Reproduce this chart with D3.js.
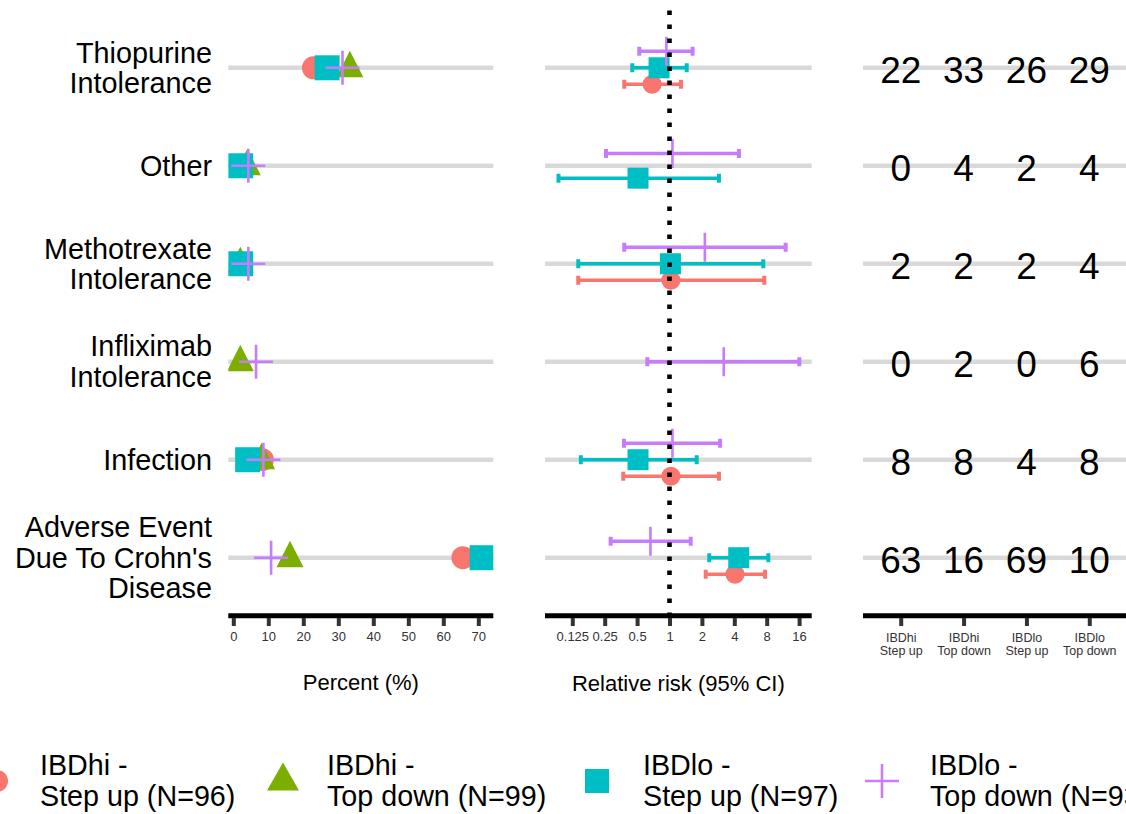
<!DOCTYPE html>
<html>
<head>
<meta charset="utf-8">
<script src="https://cdn.jsdelivr.net/npm/d3@7"></script>
<style>
  html, body { margin: 0; padding: 0; background: #fff; }
  svg { display: block; font-family: "Liberation Sans", Arial, Helvetica, sans-serif; }
</style>
</head>
<body>
<svg id="chart" width="1126" height="814"></svg>
<script>
// ---- data ----
const categories = [
  "Thiopurine Intolerance",
  "Other",
  "Methotrexate Intolerance",
  "Infliximab Intolerance",
  "Infection",
  "Adverse Event Due To Crohn's Disease"
];
const categoryLines = [
  ["Thiopurine", "Intolerance"],
  ["Other"],
  ["Methotrexate", "Intolerance"],
  ["Infliximab", "Intolerance"],
  ["Infection"],
  ["Adverse Event", "Due To Crohn's", "Disease"]
];

const groups = ["IBDhi - Step up", "IBDhi - Top down", "IBDlo - Step up", "IBDlo - Top down"];
const groupLegendLine1 = ["IBDhi -", "IBDhi -", "IBDlo -", "IBDlo -"];
const groupLegendLine2 = ["Step up (N=96)", "Top down (N=99)", "Step up (N=97)", "Top down (N=93)"];
const groupTickLine1 = ["IBDhi", "IBDhi", "IBDlo", "IBDlo"];
const groupTickLine2 = ["Step up", "Top down", "Step up", "Top down"];
const groupColors = ["#F8766D", "#7CAE00", "#00BFC4", "#C77CFF"];
const groupShapes = ["circle", "triangle", "square", "cross"];

// number of patients with each event, per group
const countHiStepUp  = [22, 0, 2, 0, 8, 63];
const countHiTopDown = [33, 4, 2, 2, 8, 16];
const countLoStepUp  = [26, 2, 2, 0, 4, 69];
const countLoTopDown = [29, 4, 4, 6, 8, 10];

// percent of patients with each event (null where there were no events)
const pctHiStepUp  = [22.9, null, 2.1, null, 8.3, 65.6];
const pctHiTopDown = [33.3, 4.0, 2.0, 2.0, 8.1, 16.2];
const pctLoStepUp  = [26.8, 2.1, 2.1, null, 4.1, 71.1];
const pctLoTopDown = [31.2, 4.3, 4.3, 6.5, 8.6, 10.8];

// relative risk against IBDhi - Top down, with 95% confidence limits
const rrHiStepUp     = [0.69, null, 1.03, null, 1.03, 4.06];
const rrHiStepUpLow  = [0.38, null, 0.142, null, 0.372, 2.17];
const rrHiStepUpHigh = [1.28, null, 7.6, null, 2.88, 7.72];
const rrLoStepUp     = [0.80, 0.51, 1.02, null, 0.51, 4.40];
const rrLoStepUpLow  = [0.451, 0.093, 0.142, null, 0.150, 2.34];
const rrLoStepUpHigh = [1.445, 2.88, 7.44, null, 1.79, 8.28];
const rrLoTopDown     = [0.935, 1.065, 2.13, 3.19, 1.065, 0.665];
const rrLoTopDownLow  = [0.524, 0.257, 0.380, 0.622, 0.378, 0.284];
const rrLoTopDownHigh = [1.64, 4.42, 12.0, 16.07, 2.95, 1.574];

const pctTicks = [0, 10, 20, 30, 40, 50, 60, 70];
const rrTicks = [0.125, 0.25, 0.5, 1, 2, 4, 8, 16];
const rrTickLabels = ["0.125", "0.25", "0.5", "1", "2", "4", "8", "16"];

// ---- series tables built from the arrays ----
const counts = [countHiStepUp, countHiTopDown, countLoStepUp, countLoTopDown];
const pcts = [pctHiStepUp, pctHiTopDown, pctLoStepUp, pctLoTopDown];
const rrSeries = [
  { g: 0, est: rrHiStepUp, lo: rrHiStepUpLow, hi: rrHiStepUpHigh },
  { g: 2, est: rrLoStepUp, lo: rrLoStepUpLow, hi: rrLoStepUpHigh },
  { g: 3, est: rrLoTopDown, lo: rrLoTopDownLow, hi: rrLoTopDownHigh }
];

// ---- layout ----
const svg = d3.select("#chart");
const FONT = '"Liberation Sans", Arial, Helvetica, sans-serif';
const panelTop = 9, panelBottom = 616.5;
const axisLineY = 615.8, tickTop = 618;

const y = d3.scalePoint().domain(categories).range([panelTop, panelBottom]).padding(0.6);
const rowStep = y.step();

const pctPanel = { x0: 228.3, x1: 493.3 };
const xPct = d3.scaleLinear().domain([0, 70]).range([233.3, 478.3]);

const rrPanel = { x0: 545, x1: 811.7 };
const xRR = d3.scaleLog().base(2).domain([0.125, 16]).range([572.3, 799.1]);

const cntPanel = { x0: 863, x1: 1127 };
const xCnt = d3.scalePoint().domain(groups).range([cntPanel.x0, cntPanel.x1]).padding(0.6);

const defs = svg.append("defs");
function clipFor(id, p) {
  defs.append("clipPath").attr("id", id)
    .append("rect").attr("x", p.x0).attr("y", panelTop)
    .attr("width", p.x1 - p.x0).attr("height", panelBottom - panelTop);
}
clipFor("clip-pct", pctPanel);
clipFor("clip-rr", rrPanel);
clipFor("clip-cnt", cntPanel);

// marker drawing
function drawShape(g, shape, cx, cy, sz, color) {
  if (shape === "circle") {
    g.append("circle").attr("cx", cx).attr("cy", cy).attr("r", sz.r).attr("fill", color);
  } else if (shape === "square") {
    g.append("rect").attr("x", cx - sz.sq / 2).attr("y", cy - sz.sq / 2)
      .attr("width", sz.sq).attr("height", sz.sq).attr("fill", color);
  } else if (shape === "triangle") {
    const t = sz.tri;
    g.append("path")
      .attr("d", `M${cx},${cy - t.up}L${cx + t.half},${cy + t.down}L${cx - t.half},${cy + t.down}Z`)
      .attr("fill", color);
  } else if (shape === "cross") {
    const c = sz.cross;
    g.append("line").attr("x1", cx - c).attr("x2", cx + c).attr("y1", cy).attr("y2", cy)
      .attr("stroke", color).attr("stroke-width", 2.6);
    g.append("line").attr("x1", cx).attr("x2", cx).attr("y1", cy - c).attr("y2", cy + c)
      .attr("stroke", color).attr("stroke-width", 2.6);
  }
}
const sizePct = { r: 11.5, sq: 25, tri: { up: 17, down: 9.5, half: 13.5 }, cross: 17 };
const sizeRR = { r: 9.5, sq: 21, tri: { up: 14, down: 8, half: 11.5 }, cross: 14.5 };
const sizeLegend = { r: 11, sq: 24, tri: { up: 18.5, down: 9.5, half: 16 }, cross: 17 };

function rowLines(p) {
  svg.append("g").selectAll("line").data(categories).join("line")
    .attr("x1", p.x0).attr("x2", p.x1)
    .attr("y1", d => y(d)).attr("y2", d => y(d))
    .attr("stroke", "#D9D9D9").attr("stroke-width", 4.5);
}

function axisLine(p) {
  svg.append("line").attr("x1", p.x0).attr("x2", p.x1)
    .attr("y1", axisLineY).attr("y2", axisLineY)
    .attr("stroke", "#000").attr("stroke-width", 5);
}

function styleAxis(g) {
  g.select(".domain").remove();
  g.attr("font-family", FONT).attr("font-size", 13);
  g.selectAll(".tick line").attr("stroke", "#333").attr("stroke-width", 4);
  g.selectAll(".tick text").attr("fill", "#333");
}

// ---- category labels ----
const labelLineH = 30.5;
const labelG = svg.append("g").attr("font-size", 28.8).attr("fill", "#000").attr("text-anchor", "end");
categories.forEach((c, i) => {
  const lines = categoryLines[i];
  const n = lines.length;
  const t = labelG.append("text").attr("x", 212);
  lines.forEach((ln, k) => {
    t.append("tspan").attr("x", 212)
      .attr("y", y(c) + 10 + (k - (n - 1) / 2) * labelLineH)
      .text(ln);
  });
});

// ---- panel 1: percent ----
rowLines(pctPanel);
const pctPoints = svg.append("g").attr("clip-path", "url(#clip-pct)");
pcts.forEach((arr, gi) => {
  arr.forEach((v, i) => {
    if (v == null) return;
    drawShape(pctPoints, groupShapes[gi], xPct(v), y(categories[i]), sizePct, groupColors[gi]);
  });
});
axisLine(pctPanel);
svg.append("g").attr("transform", `translate(0,${tickTop})`)
  .call(d3.axisBottom(xPct).tickValues(pctTicks).tickSize(8).tickPadding(6).tickFormat(d3.format("d")))
  .call(styleAxis);
svg.append("text").attr("x", (pctPanel.x0 + pctPanel.x1) / 2).attr("y", 690)
  .attr("text-anchor", "middle").attr("font-size", 22).attr("fill", "#000")
  .text("Percent (%)");

// ---- panel 2: relative risk ----
rowLines(rrPanel);
const rrG = svg.append("g").attr("clip-path", "url(#clip-rr)");
const dodgeWidth = rowStep * 0.505;
function dodgeOffset(i, s) {
  const present = rrSeries.filter(r => r.est[i] != null);
  const k = present.length;
  const j = present.indexOf(s);
  return (dodgeWidth / k) * ((k - 1) / 2 - j);
}
// error bars
rrSeries.forEach(s => {
  s.est.forEach((v, i) => {
    if (v == null) return;
    const cy = y(categories[i]) + dodgeOffset(i, s);
    const col = groupColors[s.g];
    const x0 = xRR(s.lo[i]), x1 = xRR(s.hi[i]);
    rrG.append("line").attr("x1", x0).attr("x2", x1).attr("y1", cy).attr("y2", cy)
      .attr("stroke", col).attr("stroke-width", 3.5);
    [x0, x1].forEach(xx => {
      rrG.append("line").attr("x1", xx).attr("x2", xx).attr("y1", cy - 4.5).attr("y2", cy + 4.5)
        .attr("stroke", col).attr("stroke-width", 4);
    });
  });
});
// point estimates
rrSeries.forEach(s => {
  s.est.forEach((v, i) => {
    if (v == null) return;
    const cy = y(categories[i]) + dodgeOffset(i, s);
    drawShape(rrG, groupShapes[s.g], xRR(v), cy, sizeRR, groupColors[s.g]);
  });
});
// no-effect reference line
svg.append("line").attr("x1", xRR(1)).attr("x2", xRR(1))
  .attr("y1", 10.5).attr("y2", panelBottom)
  .attr("stroke", "#000").attr("stroke-width", 4.6).attr("stroke-dasharray", "4.5,9.5");
axisLine(rrPanel);
svg.append("g").attr("transform", `translate(0,${tickTop})`)
  .call(d3.axisBottom(xRR).tickValues(rrTicks).tickSize(8).tickPadding(6)
    .tickFormat((d, i) => rrTickLabels[i]))
  .call(styleAxis);
svg.append("text").attr("x", (rrPanel.x0 + rrPanel.x1) / 2).attr("y", 691)
  .attr("text-anchor", "middle").attr("font-size", 22).attr("fill", "#000")
  .text("Relative risk (95% CI)");

// ---- panel 3: event counts ----
rowLines(cntPanel);
const cntG = svg.append("g").attr("clip-path", "url(#clip-cnt)")
  .attr("font-size", 37).attr("text-anchor", "middle").attr("fill", "#000");
counts.forEach((arr, gi) => {
  arr.forEach((v, i) => {
    cntG.append("text").attr("x", xCnt(groups[gi])).attr("y", y(categories[i]) + 15.5).text(v);
  });
});
axisLine(cntPanel);
const cntAxis = svg.append("g").attr("transform", `translate(0,${tickTop})`)
  .call(d3.axisBottom(xCnt).tickSize(8).tickPadding(6).tickFormat(() => ""))
  .call(styleAxis);
cntAxis.selectAll(".tick text").each(function (d, i) {
  const t = d3.select(this).attr("dy", null).attr("y", null).attr("font-size", 12.5);
  t.append("tspan").attr("x", 0).attr("y", 23.7).text(groupTickLine1[i]);
  t.append("tspan").attr("x", 0).attr("y", 37).text(groupTickLine2[i]);
});

// ---- legend ----
const legendKeyX = [-3, 283, 597, 882];
const legendTextX = [40, 327, 643, 930];
const legendG = svg.append("g").attr("font-size", 28.7).attr("fill", "#000");
groups.forEach((g, i) => {
  drawShape(legendG, groupShapes[i], legendKeyX[i], 781, sizeLegend, groupColors[i]);
  const t = legendG.append("text");
  t.append("tspan").attr("x", legendTextX[i]).attr("y", 775).text(groupLegendLine1[i]);
  t.append("tspan").attr("x", legendTextX[i]).attr("y", 806).text(groupLegendLine2[i]);
});
</script>
</body>
</html>
